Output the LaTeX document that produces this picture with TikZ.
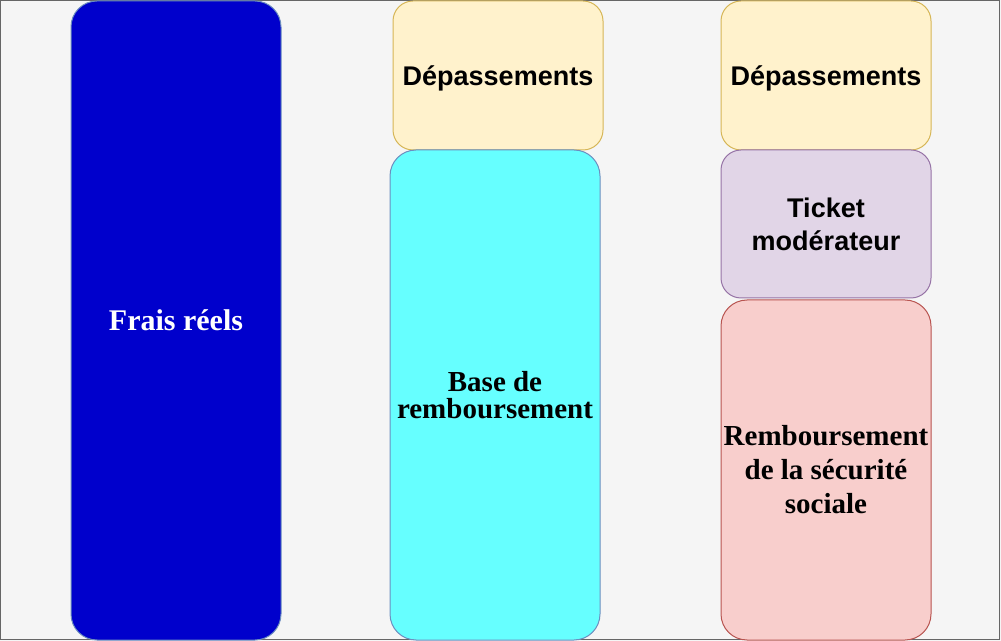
\documentclass[tikz,border=0pt]{standalone}
\usepackage{fontspec}
\setmainfont{Liberation Serif}
\newfontfamily\sansfam{Liberation Sans}
\definecolor{bgc}{HTML}{F5F5F5}
\definecolor{framec}{HTML}{666666}
\definecolor{fraisc}{HTML}{0000CC}
\definecolor{bluebd}{HTML}{6C8EBF}
\definecolor{cyanc}{HTML}{66FFFF}
\definecolor{yelc}{HTML}{FFF2CC}
\definecolor{yelbd}{HTML}{D6B656}
\definecolor{purc}{HTML}{E1D5E7}
\definecolor{purbd}{HTML}{9673A6}
\definecolor{redc}{HTML}{F8CECC}
\definecolor{redbd}{HTML}{B85450}
\tikzset{
  colbox/.style={draw, line width=0.5pt, inner sep=0pt, outer sep=0pt,
    minimum width=105pt, align=center},
  bigr/.style={rounded corners=13pt},
  smallr/.style={rounded corners=10pt},
  sanslabel/.style={font=\sansfam\bfseries\fontsize{13.5}{16.5}\selectfont},
  seriflabel/.style={font=\bfseries\fontsize{14.5}{17}\selectfont}
}
\begin{document}
\begin{tikzpicture}[x=0.5pt,y=-0.5pt]
\useasboundingbox (0,0) rectangle (1001,641);
\fill[bgc] (0,0) rectangle (1001,641);
\draw[framec, line width=0.5pt] (0.5,0.5) rectangle (999.5,639.5);

\node[colbox, bigr, fill=fraisc, draw=bluebd, minimum height=319.5pt,
  text=white, font=\bfseries\fontsize{15}{17}\selectfont] (frais) at (176,320.5) {Frais réels};

\node[colbox, smallr, fill=yelc, draw=yelbd, minimum height=74.5pt, sanslabel,
  text depth=0pt] (dep1) at (498,75.5) {Dépassements};
\node[colbox, bigr, fill=cyanc, draw=bluebd, minimum height=245pt,
  font=\bfseries\fontsize{14.5}{13.3}\selectfont]
  (base) at (495,395) {Base de\\remboursement};

\node[colbox, smallr, fill=yelc, draw=yelbd, minimum height=74.5pt, sanslabel,
  text depth=0pt] (dep2) at (826,75.5) {Dépassements};
\node[colbox, smallr, fill=purc, draw=purbd, minimum height=74pt, sanslabel]
  (ticket) at (826,224) {Ticket\\modérateur};
\node[colbox, bigr, fill=redc, draw=redbd, minimum height=170pt, seriflabel]
  (remb) at (826,470) {Remboursement\\de la sécurité\\sociale};
\end{tikzpicture}
\end{document}
